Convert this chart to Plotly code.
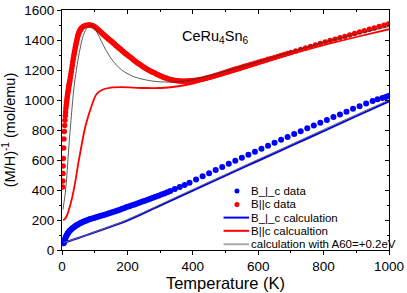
import plotly.graph_objects as go

# ---- data ----
perp_T = [5, 6, 7, 8, 9, 10, 12, 14, 16, 18, 20, 23, 26, 30, 34, 38, 42, 46, 50, 55, 60, 65, 70, 75, 80,
          86, 92, 98, 104, 110, 116, 122, 128, 135, 142, 149, 156, 163, 170, 177, 184, 191, 198, 206, 214,
          222, 230, 238, 246, 254, 262, 270, 278, 286, 295, 304, 313, 322, 331, 345, 360, 375, 390, 410,
          430, 450, 470, 490, 510, 530, 550, 570, 590, 610, 630, 650, 670, 690, 710, 730, 750, 770, 790,
          810, 830, 850, 870, 890, 910, 930, 950, 965, 980, 990, 998]
perp_data = [45, 50, 55, 62, 70, 77, 88, 97, 105, 112, 118, 126, 133, 141, 149, 155, 161, 167, 172, 178,
             183, 188, 193, 197, 201, 206, 210, 214, 218, 222, 226, 230, 234, 239, 244, 249, 254, 259, 264,
             269, 275, 280, 286, 292, 298, 304, 310, 317, 323, 329, 335, 342, 348, 355, 362, 370, 377, 385,
             393, 406, 420, 434, 449, 470, 491, 512, 533, 554, 575, 595, 615, 635, 655, 675, 695, 715, 735,
             754, 773, 792, 811, 830, 849, 867, 886, 904, 922, 941, 959, 977, 994, 1005, 1014, 1020, 1026]

par_T = [2, 2.5, 3, 3.5, 4, 5, 6, 7, 8, 9, 10, 11, 12, 13, 14, 15, 16, 17, 18, 19, 20, 21, 22, 23, 24,
         25.5, 27, 28.5, 30, 31.5, 33, 34.5, 36, 37.5, 39, 40.5, 42, 43.5, 45, 46.5, 48, 49.5, 51, 52.5,
         54, 55.5, 57, 60, 64, 68, 72, 76, 80, 84, 88, 92, 96, 100, 104, 108, 112, 116, 120, 123, 126,
         129, 132, 135, 138, 141, 144, 147, 150, 153, 156, 159, 162, 165, 168, 171, 174, 177, 180, 183,
         186, 189, 192, 195, 198, 202, 206, 210, 214, 218, 222, 226, 230, 234, 238, 242, 246, 250, 254,
         258, 262, 266, 270, 274, 278, 282, 286, 290, 294, 298, 302, 306, 310, 314, 318, 322, 327, 332,
         337, 342, 347, 352, 357, 362, 367, 372, 377, 382, 387, 392, 397, 403, 409, 415, 421, 427, 433,
         439, 445, 451, 457, 463, 469, 475, 482, 489, 496, 503, 510, 517, 524, 531, 538, 545, 552, 559,
         566, 573, 580, 590, 600, 610, 620, 630, 640, 650, 660, 670, 680, 690, 700, 715, 730, 745, 760,
         775, 790, 805, 820, 835, 850, 865, 880, 895, 910, 925, 940, 955, 970, 985, 998]
par_data = [420, 460, 510, 560, 610, 680, 740, 790, 830, 865, 895, 920, 945, 965, 985, 1003, 1020, 1035,
            1050, 1065, 1080, 1093, 1105, 1118, 1130, 1150, 1170, 1190, 1210, 1232, 1255, 1275, 1295, 1313,
            1330, 1348, 1365, 1380, 1395, 1410, 1425, 1435, 1445, 1453, 1460, 1466, 1472, 1480, 1488, 1493,
            1496, 1498, 1500, 1500, 1499, 1497, 1494, 1489, 1482, 1474, 1466, 1458, 1450, 1444, 1438, 1432,
            1426, 1420, 1415, 1409, 1404, 1398, 1393, 1387, 1382, 1376, 1370, 1364, 1358, 1353, 1347, 1341,
            1336, 1330, 1325, 1319, 1314, 1309, 1304, 1297, 1290, 1283, 1276, 1269, 1262, 1255, 1249, 1243,
            1237, 1231, 1225, 1219, 1214, 1209, 1204, 1199, 1194, 1189, 1185, 1181, 1176, 1172, 1168, 1164,
            1160, 1156, 1152, 1149, 1146, 1143, 1139, 1136, 1134, 1132, 1130, 1128, 1127, 1126, 1125, 1125,
            1125, 1126, 1127, 1128, 1129, 1130, 1132, 1134, 1136, 1139, 1142, 1145, 1148, 1152, 1155, 1159,
            1163, 1167, 1171, 1176, 1181, 1186, 1191, 1196, 1201, 1206, 1210, 1215, 1220, 1225, 1229, 1234,
            1238, 1245, 1251, 1258, 1264, 1271, 1277, 1284, 1290, 1297, 1304, 1310, 1317, 1327, 1337, 1347,
            1357, 1366, 1376, 1386, 1396, 1405, 1415, 1424, 1434, 1443, 1453, 1462, 1471, 1480, 1490, 1499,
            1507]

perp_calc_T = [5, 25, 50, 75, 100, 150, 200, 300, 400, 500, 600, 700, 800, 900, 1000]
perp_calc = [50, 62, 80, 99, 118, 157, 197, 296, 396, 496, 595, 694, 793, 892, 991]

par_calc_T = [3, 8, 15, 20, 30, 40, 50, 60, 70, 80, 90, 106, 125, 150, 182, 250, 300, 350, 400, 500, 600,
              700, 800, 900, 1000]
par_calc = [200, 205, 230, 260, 340, 448, 580, 700, 810, 890, 957, 1040, 1070, 1083, 1086, 1080, 1080,
            1090, 1110, 1170, 1238, 1305, 1365, 1420, 1472]

alt_perp_T = [5, 50, 100, 200, 300, 400, 500, 600, 700, 800, 900, 1000]
alt_perp = [50, 81, 120, 202, 303, 404, 504, 604, 703, 803, 902, 1000]

alt_par_T = [3, 10, 15, 20, 25, 30, 35, 40, 49, 57, 64, 75, 85, 95, 111, 131, 157, 182, 210, 233, 284,
             315, 350, 400, 500, 600, 700, 800, 900, 1000]
alt_par = [270, 380, 500, 660, 800, 930, 1050, 1140, 1268, 1360, 1423, 1475, 1498, 1490, 1434, 1346, 1257,
           1201, 1165, 1146, 1124, 1120, 1121, 1135, 1192, 1255, 1320, 1385, 1438, 1490]

x_ticks = [0, 200, 400, 600, 800, 1000]
y_ticks = [0, 200, 400, 600, 800, 1000, 1200, 1400, 1600]

legend_labels = ["B_|_c data", "B||c data", "B_|_c calculation", "B||c calcualtion",
                 "calculation with A60=+0.2eV"]

BLUE = "#0000ff"
RED = "#ff0000"
GRAY = "#666666"
LEG_GRAY = "#aaaaaa"

fig = go.Figure()
fig.add_trace(go.Scatter(x=par_T, y=par_data, mode="markers", name="B||c data",
                         marker=dict(color=RED, size=5.5, line=dict(width=0)), showlegend=False))
fig.add_trace(go.Scatter(x=perp_T, y=perp_data, mode="markers", name="B_|_c data",
                         marker=dict(color=BLUE, size=6, line=dict(width=0)), showlegend=False))
fig.add_trace(go.Scatter(x=perp_calc_T, y=perp_calc, mode="lines", line=dict(color=BLUE, width=2, shape="spline"),
                         showlegend=False))
fig.add_trace(go.Scatter(x=par_calc_T, y=par_calc, mode="lines", line=dict(color=RED, width=1.8, shape="spline"),
                         showlegend=False))
fig.add_trace(go.Scatter(x=alt_perp_T, y=alt_perp, mode="lines", line=dict(color=GRAY, width=1, shape="spline"),
                         showlegend=False))
fig.add_trace(go.Scatter(x=alt_par_T, y=alt_par, mode="lines", line=dict(color="#333333", width=0.8, shape="spline"),
                         showlegend=False))

# mirror axes (ticks inside)
fig.add_trace(go.Scatter(x=[None], y=[None], xaxis="x2", yaxis="y2", showlegend=False))

FONT = "Liberation Sans, Arial, sans-serif"
axis_common = dict(showline=True, linecolor="black", linewidth=1, showgrid=False, zeroline=False,
                   ticks="outside", ticklen=4, tickwidth=1, tickcolor="black", automargin=False,
                   tickfont=dict(family=FONT, size=13.5, color="black"))

# ---- manual legend (compact rows like the reference) ----
row_y = [0.246, 0.190, 0.135, 0.080, 0.024]
text_x = 0.573
sym_x = 0.535
line_x0, line_x1 = 0.494, 0.572
shapes = []
annotations = []
sym_styles = [("marker", BLUE), ("marker", RED), ("line", BLUE), ("line", RED), ("line", LEG_GRAY)]
for (kind, col), yy, lab in zip(sym_styles, row_y, legend_labels):
    if kind == "marker":
        shapes.append(dict(type="circle", xref="paper", yref="paper", xsizemode="pixel", ysizemode="pixel",
                           xanchor=sym_x, yanchor=yy, x0=-2.5, x1=2.5, y0=-2.5, y1=2.5,
                           fillcolor=col, line=dict(width=0)))
    else:
        shapes.append(dict(type="line", xref="paper", yref="paper", x0=line_x0, x1=line_x1, y0=yy, y1=yy,
                           line=dict(color=col, width=2)))
    annotations.append(dict(x=text_x, y=yy, xref="paper", yref="paper", text=lab, showarrow=False,
                            xanchor="left", yanchor="middle",
                            font=dict(family=FONT, size=11.5, color="black")))

annotations.append(dict(x=468, y=1418, xref="x", yref="y", text="CeRu<sub>4</sub>Sn<sub>6</sub>",
                        showarrow=False, font=dict(family=FONT, size=14.5, color="black")))

fig.update_layout(
    width=407, height=293,
    margin=dict(l=62, r=18, t=10, b=43),
    paper_bgcolor="white", plot_bgcolor="white",
    font=dict(family=FONT, color="black"),
    showlegend=False,
    xaxis=dict(range=[0, 1000], tickvals=x_ticks,
               minor=dict(dtick=100, ticks="outside", ticklen=2, tickcolor="black"),
               title=dict(text="Temperature (K)", font=dict(size=16.5), standoff=1),
               **axis_common),
    yaxis=dict(range=[0, 1600], tickvals=y_ticks,
               minor=dict(dtick=100, ticks="outside", ticklen=2, tickcolor="black"),
               title=dict(text="(M/H)<sup>-1</sup> (mol/emu)", font=dict(size=14.5), standoff=6),
               **axis_common),
    xaxis2=dict(range=[0, 1000], overlaying="x", side="top", anchor="y", tickvals=x_ticks,
                showticklabels=False, showline=True, linecolor="black", linewidth=1, showgrid=False,
                zeroline=False, ticks="inside", ticklen=4, tickcolor="black", automargin=False,
                minor=dict(dtick=100, ticks="inside", ticklen=2, tickcolor="black")),
    yaxis2=dict(range=[0, 1600], overlaying="y", side="right", anchor="x", tickvals=y_ticks,
                showticklabels=False, showline=True, linecolor="black", linewidth=1, showgrid=False,
                zeroline=False, ticks="inside", ticklen=4, tickcolor="black", automargin=False,
                minor=dict(dtick=100, ticks="inside", ticklen=2, tickcolor="black")),
    shapes=shapes,
    annotations=annotations,
)

fig.write_html("out.html", config={"displayModeBar": False},
               post_script="document.body.style.margin='0';document.body.style.padding='0';"
                           "document.documentElement.style.overflow='hidden';")
